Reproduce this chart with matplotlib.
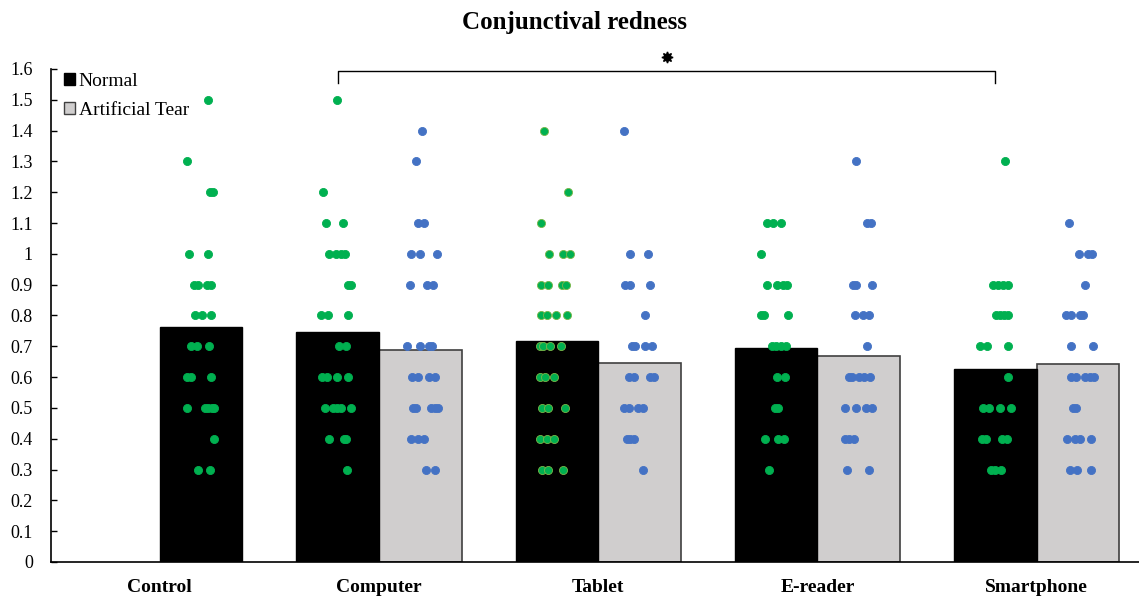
import matplotlib.pyplot as plt
from matplotlib.patches import Patch

plt.rcParams['font.family'] = ['Liberation Serif', 'DejaVu Serif']

groups = ['Control', 'Computer', 'Tablet', 'E-reader', 'Smartphone']

# mean bar heights (Control has only the Normal bar)
normal_means = [0.763, 0.747, 0.718, 0.696, 0.625]
tear_means = [None, 0.688, 0.645, 0.669, 0.644]

# individual points: (score, [horizontal jitter around the bar centre])
control_pts = [(1.5, [0.033]), (1.3, [-0.063]), (1.2, [0.041, 0.053]),
               (1.0, [-0.055, 0.033]), (0.9, [-0.031, -0.014, 0.027, 0.046]),
               (0.8, [-0.027, 0.005, 0.044]), (0.7, [-0.044, -0.017, 0.038]),
               (0.6, [-0.063, -0.044, 0.047]),
               (0.5, [-0.063, 0.018, 0.033, 0.049, 0.059]),
               (0.4, [0.059]), (0.3, [-0.015, 0.042])]
computer_n_pts = [(1.5, [-0.001]), (1.2, [-0.065]), (1.1, [-0.054, 0.025]),
                  (1.0, [-0.040, -0.005, 0.017, 0.036]), (0.9, [0.048, 0.062]),
                  (0.8, [-0.074, -0.043, 0.047]), (0.7, [0.005, 0.040]),
                  (0.6, [-0.069, -0.048, -0.001, 0.049]),
                  (0.5, [-0.058, -0.021, -0.001, 0.015, 0.060]),
                  (0.4, [-0.039, 0.030, 0.040]), (0.3, [0.043])]
computer_t_pts = [(1.4, [0.008]), (1.3, [-0.018]), (1.1, [-0.011, 0.018]),
                  (1.0, [-0.040, 0.000, 0.076]), (0.9, [-0.046, 0.029, 0.059]),
                  (0.7, [-0.061, -0.003, 0.041, 0.053]),
                  (0.6, [-0.038, -0.011, 0.041, 0.068]),
                  (0.5, [-0.035, -0.020, 0.049, 0.067, 0.082]),
                  (0.4, [-0.040, -0.012, 0.018]), (0.3, [0.026, 0.068])]
tablet_n_pts = [(1.4, [-0.059]), (1.2, [0.053]), (1.1, [-0.074]),
                (1.0, [-0.038, 0.027, 0.058]),
                (0.9, [-0.074, -0.041, 0.024, 0.042]),
                (0.8, [-0.074, -0.046, -0.006, 0.044]),
                (0.7, [-0.076, -0.064, -0.029, 0.020]),
                (0.6, [-0.079, -0.053, -0.015]),
                (0.5, [-0.068, -0.041, 0.037]),
                (0.4, [-0.079, -0.044, -0.011]),
                (0.3, [-0.067, -0.041, 0.027])]
tablet_t_pts = [(1.4, [-0.073]), (1.0, [-0.042, 0.038]),
                (0.9, [-0.065, -0.042, 0.049]), (0.8, [0.023]),
                (0.7, [-0.035, -0.020, 0.023, 0.059]),
                (0.6, [-0.050, -0.027, 0.049, 0.067]),
                (0.5, [-0.070, -0.046, -0.005, 0.018]),
                (0.4, [-0.058, -0.042, -0.023]), (0.3, [0.015])]
ereader_n_pts = [(1.1, [-0.044, -0.014, 0.024]), (1.0, [-0.068]),
                 (0.9, [-0.042, 0.005, 0.029, 0.050]),
                 (0.8, [-0.070, -0.056, 0.055]),
                 (0.7, [-0.018, 0.001, 0.021, 0.047]),
                 (0.6, [0.003, 0.040]), (0.5, [-0.006, 0.009]),
                 (0.4, [-0.050, 0.009, 0.037]), (0.3, [-0.033])]
ereader_t_pts = [(1.3, [-0.015]), (1.1, [0.035, 0.056]),
                 (0.9, [-0.026, -0.012, 0.061]), (0.8, [-0.018, 0.018, 0.046]),
                 (0.7, [0.038]), (0.6, [-0.046, -0.031, 0.000, 0.023, 0.050]),
                 (0.5, [-0.064, -0.015, 0.031, 0.061]),
                 (0.4, [-0.064, -0.046, -0.023]), (0.3, [-0.052, 0.046])]
smart_n_pts = [(1.3, [0.042]), (0.9, [-0.010, 0.013, 0.034, 0.058]),
               (0.8, [0.001, 0.021, 0.039, 0.057]),
               (0.7, [-0.072, -0.037, 0.057]), (0.6, [0.058]),
               (0.5, [-0.056, -0.030, 0.019, 0.069]),
               (0.4, [-0.060, -0.045, 0.031, 0.054]),
               (0.3, [-0.019, -0.004, 0.024])]
smart_t_pts = [(1.1, [-0.040]), (1.0, [0.006, 0.047, 0.063]), (0.9, [0.032]),
               (0.8, [-0.055, -0.032, 0.009, 0.021]), (0.7, [-0.032, 0.067]),
               (0.6, [-0.032, -0.011, 0.029, 0.052, 0.073]),
               (0.5, [-0.024, -0.009]),
               (0.4, [-0.052, -0.014, 0.009, 0.059]),
               (0.3, [-0.037, -0.006, 0.059])]

normal_pts = [control_pts, computer_n_pts, tablet_n_pts, ereader_n_pts, smart_n_pts]
tear_pts = [None, computer_t_pts, tablet_t_pts, ereader_t_pts, smart_t_pts]

green = '#00b050'
blue = '#4472c4'
bw = 0.377

fig = plt.figure(figsize=(11.39, 6.01), dpi=100)
ax = fig.add_axes([0.0448, 0.0649, 0.9552, 0.8203])


def draw_points(xc, pts, color, edge):
    xs, ys = [], []
    for val, offs in pts:
        for o in offs:
            xs.append(xc + o)
            ys.append(val)
    ax.scatter(xs, ys, s=34, color=color, edgecolors=edge, linewidths=0.6, zorder=4)


for i, g in enumerate(groups):
    if tear_means[i] is None:
        # control bar sits on the right half of its slot
        xn = i + bw / 2
    else:
        xn = i - bw / 2
        xt = i + bw / 2
        ax.bar(xt, tear_means[i], width=bw, color='#d0cece', edgecolor='#404040',
               linewidth=1.2, zorder=2)
        draw_points(xt, tear_pts[i], blue, blue)
    ax.bar(xn, normal_means[i], width=bw, color='black', edgecolor='black',
           linewidth=1.0, zorder=2)
    draw_points(xn, normal_pts[i], green, '#7ab648' if g == 'Tablet' else green)

ax.set_xlim(-0.495, 4.466)
ax.set_ylim(0, 1.6)
ax.set_yticks([k / 10 for k in range(17)])
ax.set_yticklabels(['0' if k == 0 else ('1' if k == 10 else f'{k / 10:g}') for k in range(17)],
                   fontsize=13)
ax.tick_params(axis='y', direction='in', length=4, width=1, pad=13)
ax.set_xticks(range(len(groups)))
ax.set_xticklabels(groups, fontsize=14, fontweight='bold')
ax.tick_params(axis='x', length=0, pad=12)
for s in ['top', 'right']:
    ax.spines[s].set_visible(False)
ax.spines['left'].set_linewidth(1.2)
ax.spines['bottom'].set_linewidth(1.2)

fig.text(575 / 1139, 1 - 22 / 601, 'Conjunctival redness', ha='center', va='center',
         fontsize=18, fontweight='bold')

# significance bracket between Computer and Smartphone (Normal)
x1, x2 = 1 - bw / 2, 4 - bw / 2
ax.plot([x1, x1, x2, x2], [1.556, 1.594, 1.594, 1.556], color='black', lw=1.0,
        clip_on=False, zorder=5)
ax.plot([(x1 + x2) / 2], [1.639], marker=(8, 1, 0), markersize=8, color='black',
        clip_on=False)

handles = [Patch(facecolor='black', edgecolor='black', label='Normal'),
           Patch(facecolor='#d0cece', edgecolor='#404040', label='Artificial Tear')]
ax.legend(handles=handles, loc='upper left', bbox_to_anchor=(0.0, 1.018),
          frameon=False, fontsize=14, handlelength=0.55, handleheight=0.55,
          handletextpad=0.2, labelspacing=0.6, borderaxespad=0.27)

fig.savefig('out.png', dpi=100)
